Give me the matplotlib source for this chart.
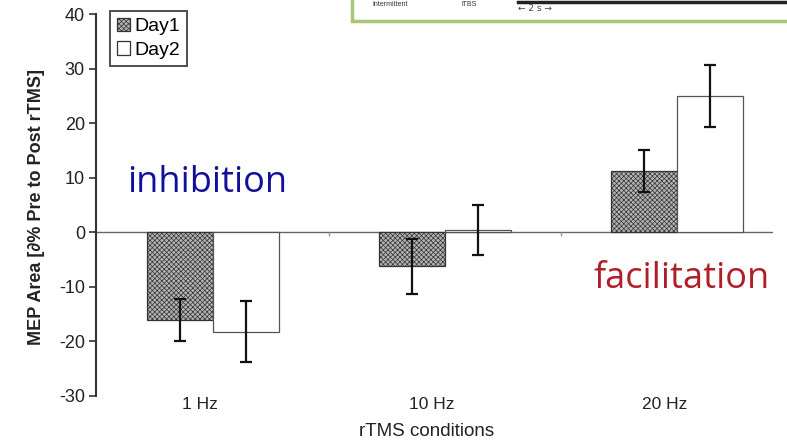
import matplotlib
matplotlib.use("Agg")
import matplotlib.pyplot as plt
import matplotlib.patches as mpatches
import numpy as np

# ---- data ----
categories = ["1 Hz", "10 Hz", "20 Hz"]
day1_mean = [-16.1, -6.2, 11.3]
day1_err = [3.9, 5.0, 3.8]
day2_mean = [-18.2, 0.5, 25.0]
day2_err = [5.6, 4.6, 5.7]
yticks = [-30, -20, -10, 0, 10, 20, 30, 40]

W, H = 787, 441
fig = plt.figure(figsize=(W / 100, H / 100), dpi=100)
fig.patch.set_facecolor("white")

def fx(px):
    return px / W

def fy(py):
    return 1 - py / H

ax = fig.add_axes([fx(96), fy(396), fx(773) - fx(96), fy(14.4) - fy(396)])
ax.set_facecolor("none")

x = np.arange(len(categories))
bw = 0.284
plt.rcParams["hatch.linewidth"] = 0.5
plt.rcParams["hatch.color"] = "#333333"

ax.bar(x - bw / 2, day1_mean, width=bw, facecolor="#b4b4b4", edgecolor="#333333",
       hatch="xxxxxxx", linewidth=0.9, zorder=2)
ax.bar(x + bw / 2, day2_mean, width=bw, facecolor="white", edgecolor="#555555",
       linewidth=0.9, zorder=2)
ax.errorbar(x - bw / 2, day1_mean, yerr=day1_err, fmt="none", ecolor="#111111",
            elinewidth=1.6, capsize=4, capthick=1.6, zorder=3)
ax.errorbar(x + bw / 2, day2_mean, yerr=day2_err, fmt="none", ecolor="#111111",
            elinewidth=1.6, capsize=4, capthick=1.6, zorder=3)

ax.axhline(0, color="#666666", lw=1.0, zorder=1)
ax.plot([0.5, 1.5], [0, 0], ls="none", marker=3, ms=3, color="#999999", zorder=1)

ax.set_ylim(-30, 40)
ax.set_xlim(-0.504, 2.414)
ax.set_yticks(yticks)
ax.set_yticklabels([str(t) for t in yticks], fontsize=13, family="Liberation Sans",
                   color="#222222")
ax.set_xticks(x - 0.055)
ax.set_xticklabels(categories, fontsize=12.5, family="Liberation Sans", color="#222222")
ax.tick_params(axis="x", length=0, pad=1)
ax.tick_params(axis="y", length=5, width=1.2, color="#333333", pad=3)

for s in ["top", "right", "bottom"]:
    ax.spines[s].set_visible(False)
ax.spines["left"].set_color("#333333")
ax.spines["left"].set_linewidth(1.5)

fig.text(fx(37), fy(207), "MEP Area [\u2202% Pre to Post rTMS]", rotation=90,
         ha="center", va="center", fontsize=13, fontweight="bold",
         family="Liberation Sans", color="#222222")
fig.text(fx(427), fy(431), "rTMS conditions", ha="center", va="center",
         fontsize=13.5, family="Liberation Sans", color="#222222")

# legend
h1 = mpatches.Patch(facecolor="#b4b4b4", edgecolor="#333333", hatch="xxxxxxx", lw=0.9)
h2 = mpatches.Patch(facecolor="white", edgecolor="#333333", lw=0.9)
leg = fig.legend([h1, h2], ["Day1", "Day2"], loc="upper left",
                 bbox_to_anchor=(fx(110), fy(11)), prop={"family": "Liberation Sans", "size": 14},
                 frameon=True, fancybox=False, handlelength=0.7, handleheight=0.7,
                 handletextpad=0.2, borderpad=0.35, labelspacing=0.3, borderaxespad=0)
leg.get_frame().set_edgecolor("#222222")
leg.get_frame().set_linewidth(1.4)

# annotations
fig.text(fx(127), fy(192), "inhibition", ha="left", va="baseline", fontsize=26,
         family="Open Sans", color="#10109a")
fig.text(fx(593), fy(288), "facilitation", ha="left", va="baseline", fontsize=26,
         family="Open Sans", color="#b01e2a")

# cropped inset box at top right
rect = mpatches.Rectangle((fx(352), fy(21)), 1.0, 0.2, transform=fig.transFigure,
                          facecolor="white", edgecolor="#a6c777", lw=2.5, clip_on=False)
fig.add_artist(rect)
fig.text(fx(372), fy(0.5), "Intermittent", fontsize=5, family="Liberation Sans",
         ha="left", va="top", color="#333333")
fig.text(fx(462), fy(0.5), "iTBS", fontsize=5, family="Liberation Sans",
         ha="left", va="top", color="#333333")
fig.add_artist(plt.Line2D([fx(518), 1.0], [fy(1.5), fy(1.5)], transform=fig.transFigure,
                          color="#222222", lw=2.5))
fig.text(fx(518), fy(8.5), "\u2190 2 s \u2192", fontsize=6.5, family="DejaVu Sans",
         ha="left", va="center", color="#444444")

fig.savefig("out.png", dpi=100)
